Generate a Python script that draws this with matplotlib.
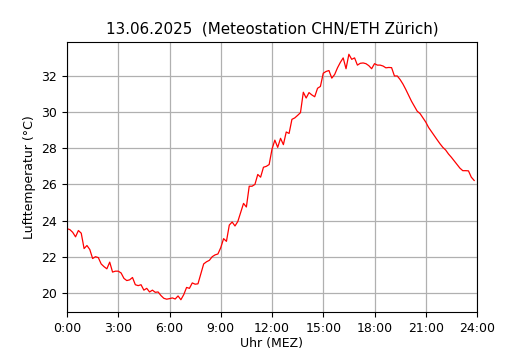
import matplotlib
matplotlib.use("Agg")
import matplotlib.pyplot as plt
import numpy as np

# 10-minute temperature readings, 00:00 .. 23:50
temps = [
    23.55, 23.5, 23.35, 23.1, 23.45, 23.3, 22.45, 22.62, 22.4, 21.9, 22.0, 21.95,
    21.6, 21.45, 21.33, 21.7, 21.15, 21.2, 21.2, 21.1, 20.8, 20.68, 20.72, 20.85,
    20.45, 20.4, 20.45, 20.15, 20.25, 20.05, 20.15, 20.03, 20.05, 19.85, 19.7, 19.65,
    19.68, 19.72, 19.66, 19.83, 19.62, 19.9, 20.3, 20.25, 20.55, 20.48, 20.5, 21.05,
    21.6, 21.72, 21.8, 22.0, 22.1, 22.15, 22.5, 23.0, 22.85, 23.75, 23.92, 23.7,
    23.95, 24.45, 24.95, 24.75, 25.9, 25.9, 26.0, 26.55, 26.4, 26.95, 27.0, 27.1,
    27.95, 28.45, 28.05, 28.55, 28.2, 28.9, 28.82, 29.6, 29.68, 29.82, 29.97, 31.1,
    30.78, 31.08, 30.95, 30.85, 31.32, 31.42, 32.15, 32.25, 32.3, 31.88, 32.08, 32.45,
    32.75, 33.0, 32.4, 33.2, 32.92, 33.0, 32.6, 32.7, 32.72, 32.68, 32.57, 32.4,
    32.68, 32.6, 32.6, 32.55, 32.45, 32.47, 32.46, 32.0, 32.0, 31.8, 31.55, 31.25,
    30.92, 30.6, 30.33, 30.05, 29.92, 29.68, 29.45, 29.15, 28.92, 28.68, 28.47, 28.25,
    28.05, 27.9, 27.68, 27.5, 27.3, 27.1, 26.9, 26.76, 26.76, 26.75, 26.4, 26.22,
]
hours = [i / 6 for i in range(len(temps))]

xtick_pos = [0, 3, 6, 9, 12, 15, 18, 21, 24]
xtick_labels = ["0:00", "3:00", "6:00", "9:00", "12:00", "15:00", "18:00", "21:00", "24:00"]
ytick_pos = [20, 22, 24, 26, 28, 30, 32]

fig = plt.figure(figsize=(5.3, 3.5), dpi=100)
ax = fig.add_axes([67/530, 1 - 312/350, 410/530, 270/350])
ax.plot(hours, temps, color="red", linewidth=0.9)
ax.set_xlim(0, 24)
ax.set_xticks(xtick_pos)
ax.set_xticklabels(xtick_labels)
ax.set_yticks(ytick_pos)
ax.tick_params(labelsize=9)
ax.grid(True, color="#b0b0b0", linewidth=0.9)
ax.set_axisbelow(True)
ax.set_xlabel("Uhr (MEZ)", fontsize=9, labelpad=1.5)
ax.set_ylabel("Lufttemperatur (°C)", fontsize=9)
ax.set_title("13.06.2025  (Meteostation CHN/ETH Zürich)", fontsize=10.9)
fig.savefig("out.png", dpi=100)
